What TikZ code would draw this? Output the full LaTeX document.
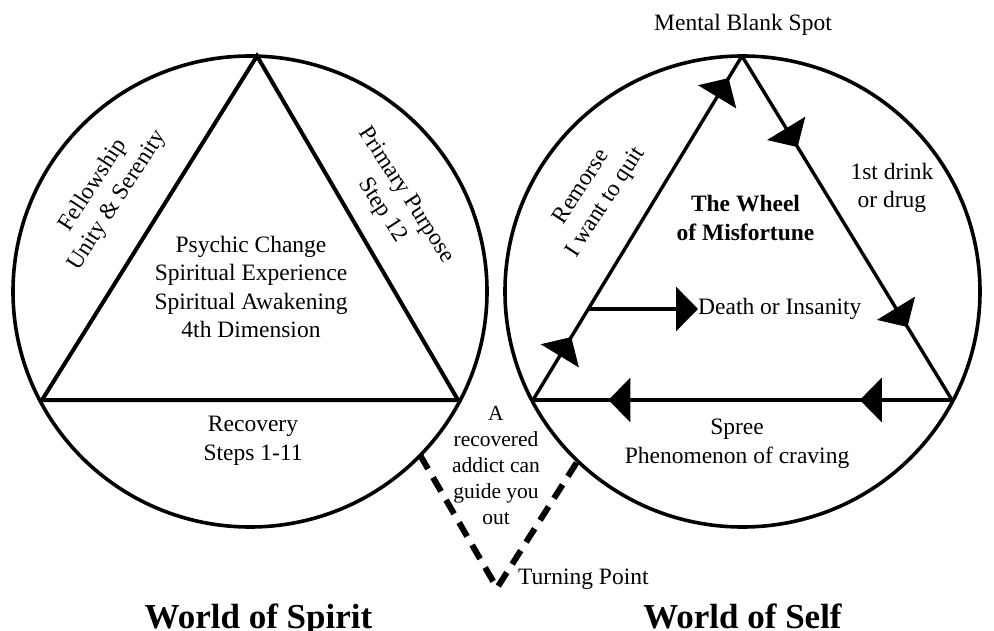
\documentclass[tikz,border=0pt]{standalone}
\usepackage{fontspec}
\setmainfont{Liberation Serif}
\usepackage{tkz-euclide}
\usetikzlibrary{positioning}
\usetikzlibrary{arrows.meta}
\usetikzlibrary{decorations.markings}

\tikzset{
  bighead/.tip={Triangle[length=22pt,width=44pt]},
  txt/.style={font=\fontsize{23.5}{28.5}\selectfont,align=center,inner sep=0pt},
  smalltxt/.style={font=\fontsize{21.5}{26}\selectfont,align=center,inner sep=0pt},
  boldtxt/.style={font=\fontsize{23.5}{28.5}\selectfont\bfseries,align=center,inner sep=0pt},
  worldtitle/.style={font=\fontsize{35}{40}\selectfont\bfseries,inner sep=0pt,anchor=base},
  rim/.style={line width=3.6pt},
  spiritline/.style={line width=4pt,line join=miter},
  selfline/.style={line width=3.4pt},
  spreeline/.style={line width=4pt},
  guideline/.style={line width=6pt,dash pattern=on 16pt off 10pt,line join=miter},
  flow/.style 2 args={postaction={decorate,decoration={markings,
      mark=at position #1 with {\arrow{bighead}},
      mark=at position #2 with {\arrow{bighead}}}}}
}

\begin{document}
\begin{tikzpicture}[x=1pt,y=1pt]

  \useasboundingbox (0,0) rectangle (994,-631);

  \tkzDefPoint(257,-56){A}
  \tkzDefPoint(42,-400){B}
  \tkzDefPoint(458,-400){C}

  \tkzDefPoint(742,-56){M}
  \tkzDefPoint(533,-400){L}
  \tkzDefPoint(952,-400){R}
  \tkzDefPoint(588,-309){D}

  \tkzDefPoint(420,-455){P}
  \tkzDefPoint(497,-588){T}
  \tkzDefPoint(577,-462){Q}

  \draw[rim] (250,-291.5) ellipse [x radius=237, y radius=235.5];
  \draw[rim] (742.5,-291.5) ellipse [x radius=237.5, y radius=235.5];

  \draw[spiritline] (A) -- (B) -- (C) -- cycle;

  \node[txt] (change) at (251,-287) {Psychic Change\\Spiritual Experience\\Spiritual Awakening\\4th Dimension};
  \node[txt] (recovery) at (253,-441) {Recovery\\Steps 1-11};
  \node[txt,rotate=57] (fellowship) at (105.5,-193) {Fellowship\\Unity \& Serenity};
  \node[txt,rotate=-57] (purpose) at (394,-203) {Primary Purpose\\Step 12};

  \node[txt] (blank) at (743,-25) {Mental Blank Spot};
  \node[boldtxt] (wheel) at (745.5,-218) {The Wheel\\of Misfortune};
  \node[txt] (drink) at (892,-188) {1st drink\\or drug};
  \node[txt,rotate=57] (remorse) at (594,-195) {Remorse\\I want to quit};
  \node[txt,anchor=west] (death) at (698,-309) {Death or Insanity};
  \node[txt] (spree) at (737,-444) {Spree\\Phenomenon of craving};

  \draw[selfline,flow={0.183}{0.936}] (L) -- (M);
  \draw[selfline,flow={0.265}{0.788}] (M) -- (R);
  \draw[spreeline,flow={0.22}{0.82}] (R) -- (L);
  \draw[selfline,-bighead] (D) -- (death.west);

  \node[smalltxt] (guide) at (496,-466) {A\\recovered\\addict can\\guide you\\out};
  \node[txt,anchor=west] (turning) at (518,-579) {Turning Point};
  \draw[guideline] (P) -- (T) -- (Q);

  \node[worldtitle] (spirit) at (258.5,-628) {World of Spirit};
  \node[worldtitle] (self) at (742.5,-628) {World of Self};

\end{tikzpicture}
\end{document}
